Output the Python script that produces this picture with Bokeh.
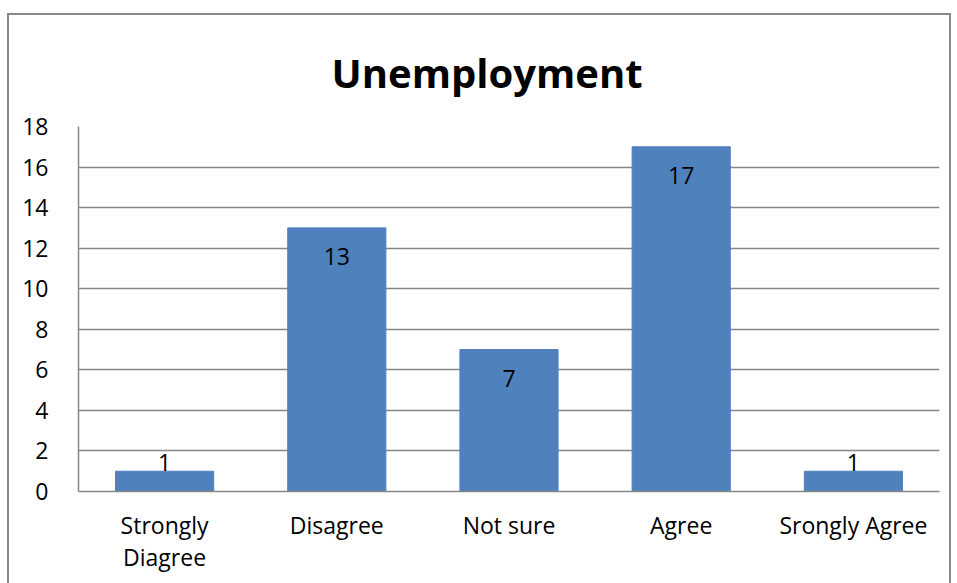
from bokeh.plotting import figure
from bokeh.models import ColumnDataSource, FixedTicker, Range1d
from bokeh.core.properties import value
from bokeh.embed import file_html
from bokeh.resources import INLINE

title_text = "Unemployment"
categories = ["Strongly\nDiagree", "Disagree", "Not sure", "Agree", "Srongly Agree"]
counts = [1, 13, 7, 17, 1]
y_ticks = [0, 2, 4, 6, 8, 10, 12, 14, 16, 18]

FONT = "Open Sans"
BAR = "#4F81BD"
GRID = "#868686"

# label placement: inside bar top for tall bars, just above for tiny ones
label_off = [29 if c >= 3 else -9 for c in counts]

src = ColumnDataSource(dict(cat=categories, val=counts, lo=label_off,
                            txt=[str(c) for c in counts]))

p = figure(width=944, height=600, x_range=categories, y_range=Range1d(0, 18),
           output_backend="svg", toolbar_location=None,
           min_border_left=69, min_border_right=14, min_border_top=111,
           min_border_bottom=124)
p.styles = {"border": "2px solid #888888", "margin-left": "7px", "margin-top": "13px"}

p.vbar(x="cat", top="val", width=0.57, source=src, fill_color=BAR, line_color=BAR)
p.text(x="cat", y="val", text="txt", y_offset="lo", source=src,
       text_align="center", text_baseline="middle", text_font=value(FONT),
       text_font_size="23px", text_color="#000000")

p.title.text = title_text
p.title.text_font = FONT
p.title.text_font_size = "40px"
p.title.text_font_style = "bold"
p.title.align = "left"
p.title.offset = 253
p.title.standoff = 54
p.title.text_color = "#000000"

p.outline_line_color = None
p.xgrid.grid_line_color = None
p.ygrid.grid_line_color = GRID
p.ygrid.grid_line_width = 1.5
p.yaxis.ticker = FixedTicker(ticks=y_ticks)
p.yaxis.major_tick_line_color = None
p.yaxis.minor_tick_line_color = None
p.yaxis.axis_line_color = GRID
p.yaxis.axis_line_width = 1.5
p.yaxis.major_label_standoff = 24
p.yaxis.major_label_text_font = FONT
p.yaxis.major_label_text_font_size = "23px"
p.yaxis.major_label_text_color = "#000000"

p.xaxis.major_tick_line_color = None
p.xaxis.axis_line_color = GRID
p.xaxis.axis_line_width = 1.5
p.xaxis.major_label_standoff = 11
p.xaxis.major_label_text_font = FONT
p.xaxis.major_label_text_font_size = "23px"
p.xaxis.major_label_text_line_height = 1.0
p.xaxis.major_label_text_color = "#000000"

open("out.html", "w").write(file_html(p, INLINE))
